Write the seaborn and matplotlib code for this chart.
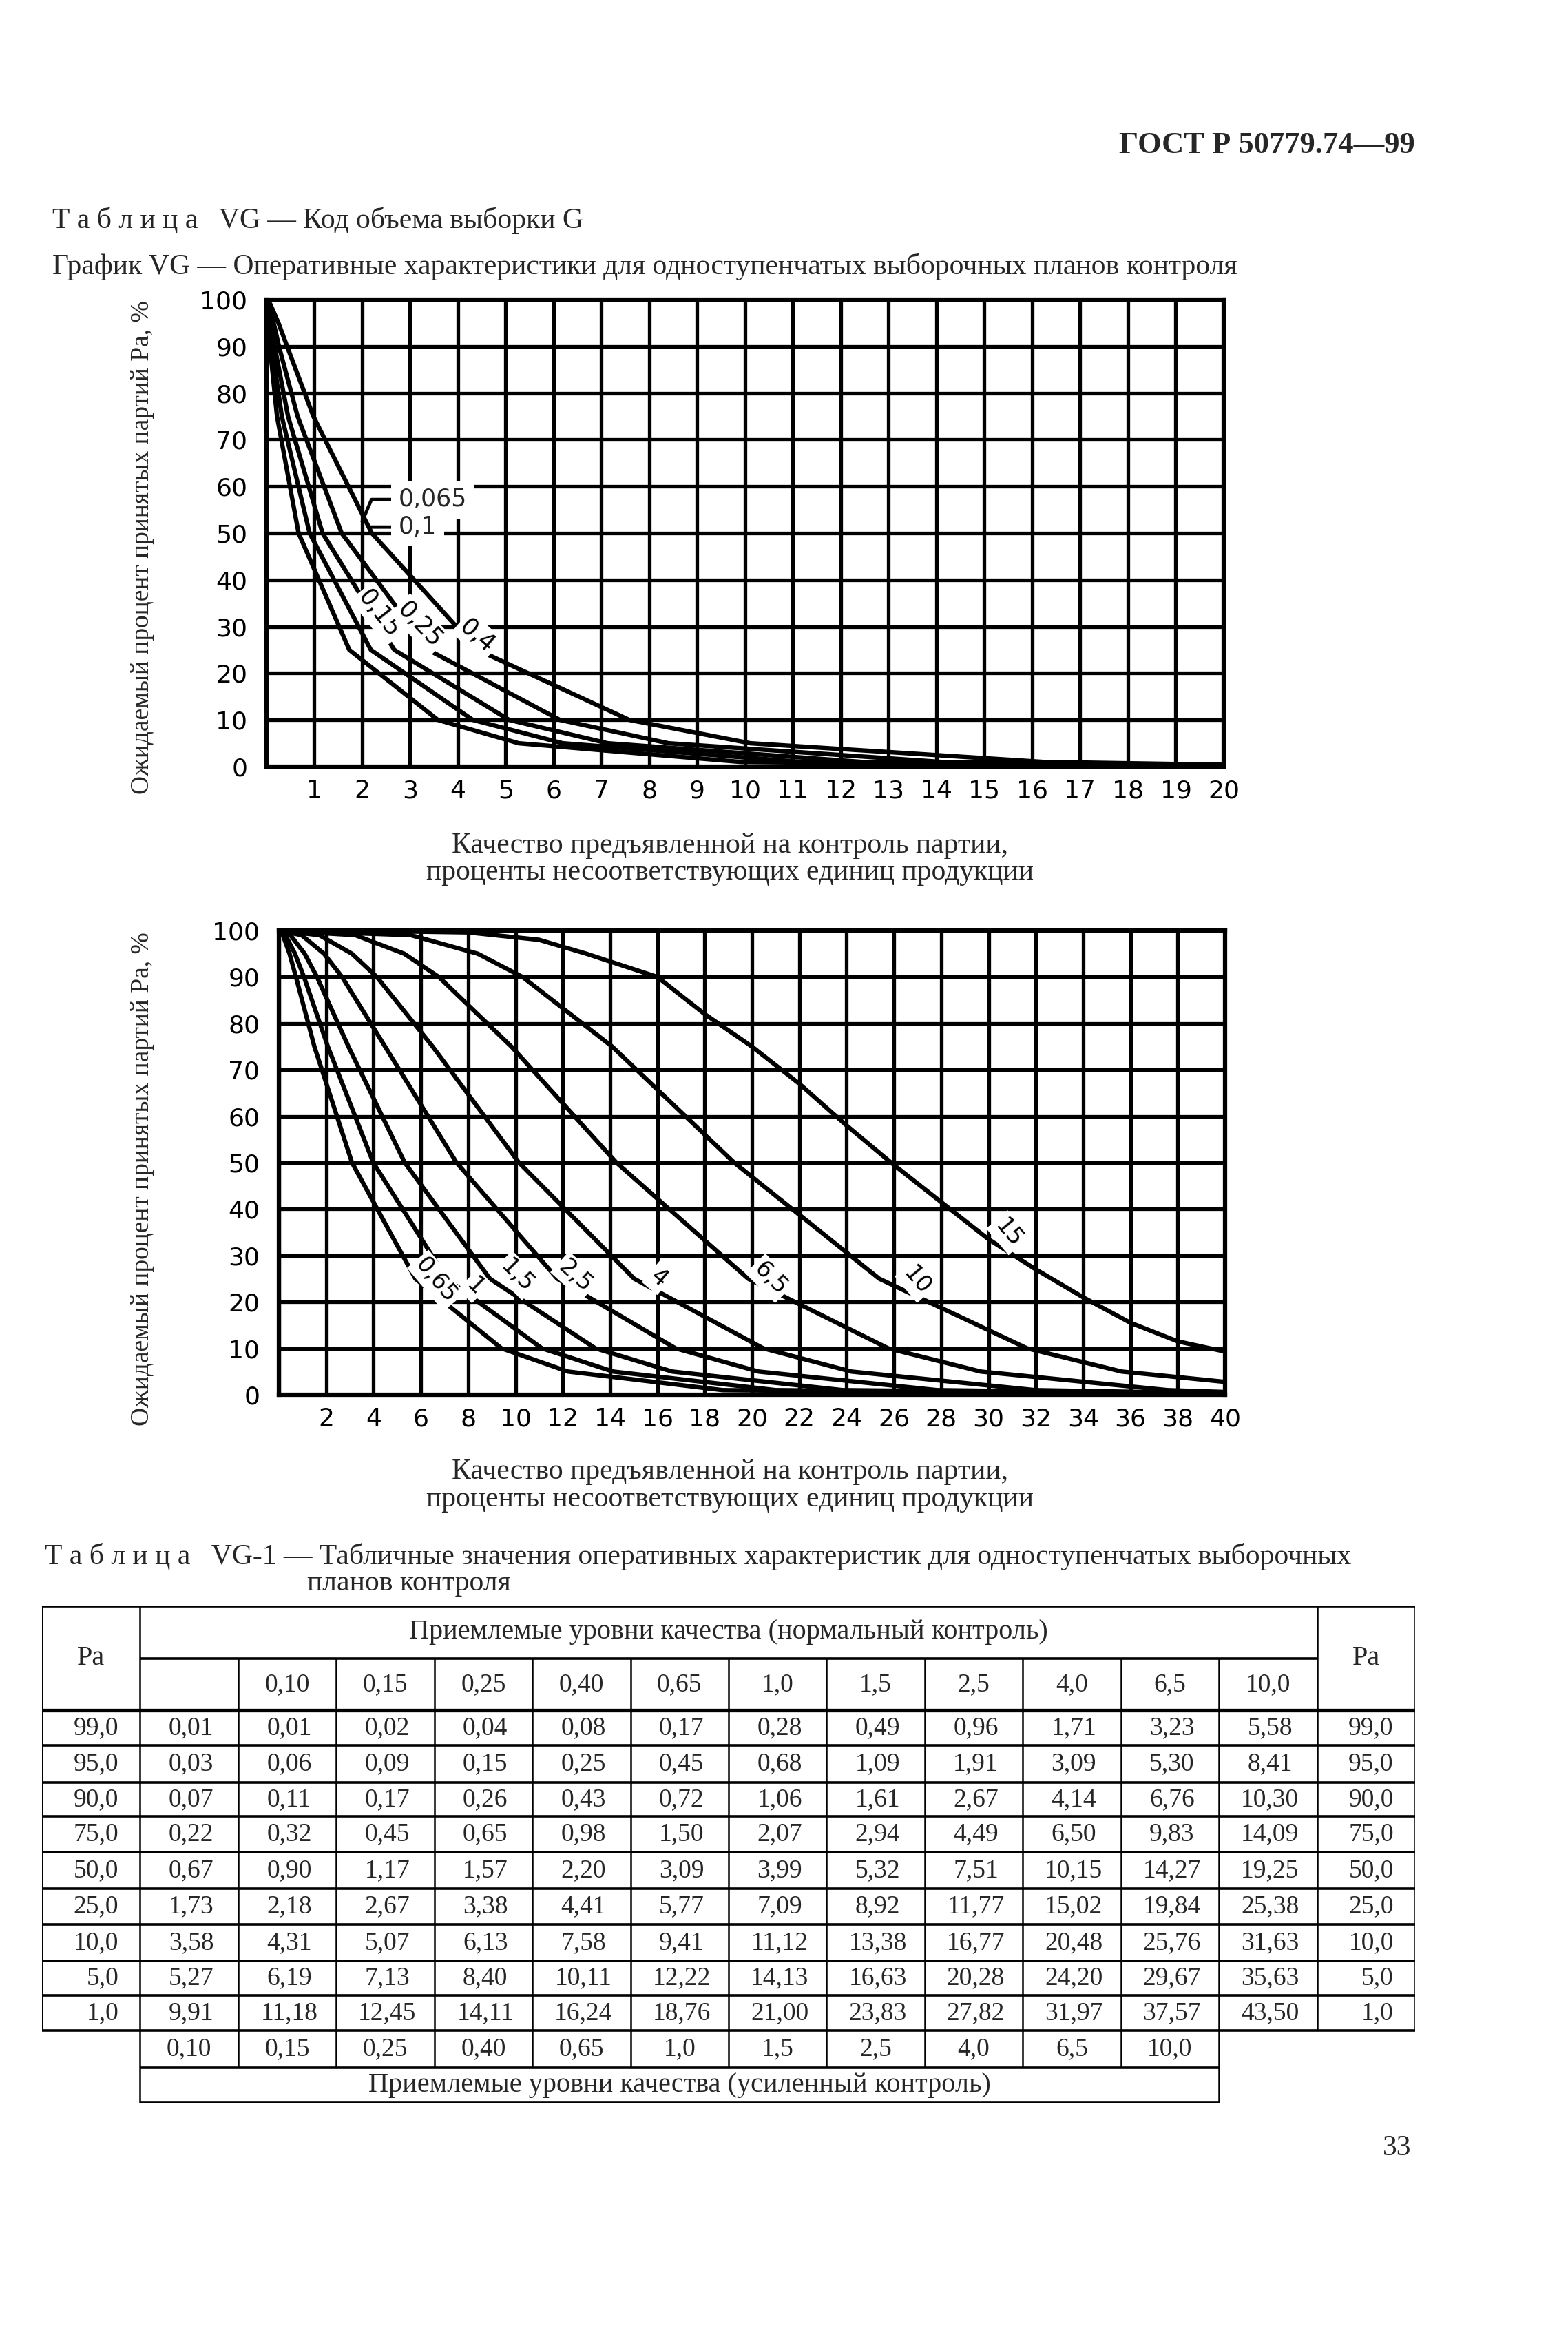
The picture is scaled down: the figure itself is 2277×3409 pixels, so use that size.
import matplotlib

matplotlib.use("Agg")
import matplotlib.pyplot as plt
import pandas as pd
import seaborn as sns


OUT_PATH = "out.png"

# Pa levels, % (rows of table VG-1)
PA_LEVELS = [99.0, 95.0, 90.0, 75.0, 50.0, 25.0, 10.0, 5.0, 1.0]

# AQL column headers
NORMAL_AQL = ["", "0,10", "0,15", "0,25", "0,40", "0,65", "1,0", "1,5", "2,5", "4,0", "6,5", "10,0"]
TIGHTENED_AQL = ["0,10", "0,15", "0,25", "0,40", "0,65", "1,0", "1,5", "2,5", "4,0", "6,5", "10,0"]

# lot quality p, % nonconforming, at each Pa level (one list per table column)
P_AQL_0065 = [0.01, 0.03, 0.07, 0.22, 0.67, 1.73, 3.58, 5.27, 9.91]
P_AQL_010 = [0.01, 0.06, 0.11, 0.32, 0.90, 2.18, 4.31, 6.19, 11.18]
P_AQL_015 = [0.02, 0.09, 0.17, 0.45, 1.17, 2.67, 5.07, 7.13, 12.45]
P_AQL_025 = [0.04, 0.15, 0.26, 0.65, 1.57, 3.38, 6.13, 8.40, 14.11]
P_AQL_040 = [0.08, 0.25, 0.43, 0.98, 2.20, 4.41, 7.58, 10.11, 16.24]
P_AQL_065 = [0.17, 0.45, 0.72, 1.50, 3.09, 5.77, 9.41, 12.22, 18.76]
P_AQL_10 = [0.28, 0.68, 1.06, 2.07, 3.99, 7.09, 11.12, 14.13, 21.00]
P_AQL_15 = [0.49, 1.09, 1.61, 2.94, 5.32, 8.92, 13.38, 16.63, 23.83]
P_AQL_25 = [0.96, 1.91, 2.67, 4.49, 7.51, 11.77, 16.77, 20.28, 27.82]
P_AQL_40 = [1.71, 3.09, 4.14, 6.50, 10.15, 15.02, 20.48, 24.20, 31.97]
P_AQL_65 = [3.23, 5.30, 6.76, 9.83, 14.27, 19.84, 25.76, 29.67, 37.57]
P_AQL_100 = [5.58, 8.41, 10.30, 14.09, 19.25, 25.38, 31.63, 35.63, 43.50]

# AQL 15 is drawn on the lower graph only
CURVE15_P = [0, 4, 8, 11, 13, 16, 18, 20, 22, 24, 26, 28, 30, 32, 34, 36, 38, 40]
CURVE15_PA = [100, 99.9, 99.6, 98, 95, 90, 82, 75, 67, 58, 49.5, 41.5, 33.5, 27, 21, 15.5, 11.5, 9.3]

# where the curves run out at the right edge of each graph
CHART1_END_P = 20
CHART1_END_PA = [0.1, 0.15, 0.2, 0.3, 0.4]
CHART2_END_P = 40
CHART2_END_PA = [0.05, 0.1, 0.15, 0.2, 0.3, 0.6]

CHART1_LABELS = ["0,065", "0,1", "0,15", "0,25", "0,4"]
CHART2_LABELS = ["0,65", "1", "1,5", "2,5", "4", "6,5", "10", "15"]

TABLE_COLUMNS = [P_AQL_0065, P_AQL_010, P_AQL_015, P_AQL_025, P_AQL_040, P_AQL_065,
                 P_AQL_10, P_AQL_15, P_AQL_25, P_AQL_40, P_AQL_65, P_AQL_100]

SERIF = ["Liberation Serif", "DejaVu Serif"]
PLOT_FONT = "DejaVu Sans"
INK = "black"


def fmt(value: float, digits: int = 2) -> str:
    return f"{value:.{digits}f}".replace(".", ",")


def curves_frame(columns, labels, end_p, end_pa) -> pd.DataFrame:
    rows = []
    for label, p_values, tail in zip(labels, columns, end_pa):
        xs = [0.0] + list(p_values) + [end_p]
        ys = [100.0] + PA_LEVELS + [tail]
        rows += [{"curve": label, "p": x, "pa": y} for x, y in zip(xs, ys)]
    return pd.DataFrame(rows)


def style_chart(ax, xmax: int, xstep: int) -> None:
    ax.set_xlim(0, xmax)
    ax.set_ylim(0, 100)
    ax.set_xticks(range(0, xmax + 1, xstep))
    ax.set_xticklabels([""] + [str(v) for v in range(xstep, xmax + 1, xstep)])
    ax.set_yticks(range(0, 101, 10))
    ax.grid(True, color=INK, linewidth=3.8)
    ax.set_axisbelow(True)
    for spine in ax.spines.values():
        spine.set_color(INK)
        spine.set_linewidth(4.5)
    ax.tick_params(axis="both", length=0, labelsize=26, colors=INK)
    ax.tick_params(axis="x", pad=13)
    ax.tick_params(axis="y", pad=20)
    for lab in ax.get_xticklabels() + ax.get_yticklabels():
        lab.set_fontfamily(PLOT_FONT)
    ax.set_xlabel("")
    ax.set_ylabel("")


def draw_curves(ax, df: pd.DataFrame) -> None:
    sns.lineplot(data=df, x="p", y="pa", units="curve", estimator=None, sort=False,
                 color=INK, linewidth=4.6, ax=ax, zorder=3)


def curve_label(ax, text, x, y, angle, size=24):
    ax.text(x, y, text, rotation=angle, rotation_mode="anchor", ha="center", va="center",
            fontsize=size, fontfamily=PLOT_FONT, color=INK, zorder=5,
            bbox=dict(boxstyle="square,pad=0.12", facecolor="white", edgecolor="none"))


def main() -> None:
    sns.set_theme(style="white")
    plt.rcParams["font.family"] = SERIF

    fig = plt.figure(figsize=(22.77, 34.09), dpi=100)
    fig.patch.set_facecolor("white")

    # page header
    fig.text(0.9025, 0.9381, "ГОСТ Р 50779.74—99", ha="right", va="center", fontsize=32, fontweight="bold")
    fig.text(0.0334, 0.9061, "Т а б л и ц а   VG — Код объема выборки G", ha="left", va="center", fontsize=30)
    fig.text(0.0334, 0.8865,
             "График VG — Оперативные характеристики для одноступенчатых выборочных планов контроля",
             ha="left", va="center", fontsize=30)

    ylabel = "Ожидаемый процент принятых партий Ра, %"
    xlabel1 = "Качество предъявленной на контроль партии,"
    xlabel2 = "проценты несоответствующих единиц продукции"

    # upper graph: AQL 0,065 ... 0,4
    ax1 = fig.add_axes([0.16996, 0.67351, 0.61045, 0.19889])
    df1 = curves_frame(TABLE_COLUMNS[:5], CHART1_LABELS, CHART1_END_P, CHART1_END_PA)
    draw_curves(ax1, df1)
    style_chart(ax1, 20, 1)

    leader = dict(arrowstyle="-", color=INK, lw=3.5, shrinkA=0, shrinkB=0)
    box = dict(boxstyle="square,pad=0.3", facecolor="white", edgecolor="none")
    ax1.annotate(CHART1_LABELS[0], xy=(2.0, 52.5), xytext=(2.76, 57.2), ha="left", va="center",
                 fontsize=25, fontfamily=PLOT_FONT, bbox=box, zorder=5,
                 arrowprops=dict(leader, connectionstyle="angle,angleA=180,angleB=67,rad=0"))
    ax1.annotate(CHART1_LABELS[1], xy=(2.14, 51.3), xytext=(2.76, 51.3), ha="left", va="center",
                 fontsize=25, fontfamily=PLOT_FONT, bbox=box, zorder=5, arrowprops=leader)
    for text, (x, y, ang) in zip(CHART1_LABELS[2:], [(2.36, 32.7, -52), (3.21, 30.4, -46), (4.40, 28.0, -41)]):
        curve_label(ax1, text, x, y, ang, size=25)

    fig.text(0.0909, 0.7668, ylabel, rotation=90, ha="center", va="center", fontsize=27)
    fig.text(0.4655, 0.6398, xlabel1, ha="center", va="center", fontsize=30)
    fig.text(0.4655, 0.6283, xlabel2, ha="center", va="center", fontsize=30)

    # lower graph: AQL 0,65 ... 15
    ax2 = fig.add_axes([0.17787, 0.40598, 0.60343, 0.19771])
    df2 = curves_frame(TABLE_COLUMNS[5:], CHART2_LABELS[:7], CHART2_END_P, CHART2_END_PA + [0.0])
    df2 = df2[~((df2["curve"] == "10") & (df2["p"] == CHART2_END_P))]
    df15 = pd.DataFrame({"curve": CHART2_LABELS[7], "p": CURVE15_P, "pa": CURVE15_PA})
    draw_curves(ax2, pd.concat([df2, df15], ignore_index=True))
    style_chart(ax2, 40, 2)

    label_pos2 = [(6.64, 24.6, -50), (8.28, 23.4, -45), (10.07, 25.7, -45), (12.53, 25.6, -42),
                  (16.05, 25.2, -40), (20.77, 25.1, -45), (26.96, 24.6, -50), (30.83, 34.9, -50)]
    for text, (x, y, ang) in zip(CHART2_LABELS, label_pos2):
        curve_label(ax2, text, x, y, ang, size=24)

    fig.text(0.0909, 0.4978, ylabel, rotation=90, ha="center", va="center", fontsize=27)
    fig.text(0.4655, 0.3731, xlabel1, ha="center", va="center", fontsize=30)
    fig.text(0.4655, 0.3616, xlabel2, ha="center", va="center", fontsize=30)

    # table VG-1
    fig.text(0.0285, 0.3371,
             "Т а б л и ц а   VG-1 — Табличные значения оперативных характеристик для одноступенчатых выборочных",
             ha="left", va="center", fontsize=30)
    fig.text(0.1959, 0.3256, "планов контроля", ha="left", va="center", fontsize=30)

    tax = fig.add_axes([0.02679, 0.10443, 0.87571, 0.2115])
    tax.set_xlim(0, 14)
    tax.set_ylim(721, 0)
    tax.axis("off")

    row_edges = [0, 76, 151, 202, 256, 305, 357, 410, 462, 515, 565, 616, 670, 721]
    lw_h, lw_v = 2.6, 1.8
    tax.hlines(row_edges[0], 0, 14, color=INK, lw=lw_h)
    tax.hlines(row_edges[1], 1, 13, color=INK, lw=lw_h)
    tax.hlines(row_edges[2], 0, 14, color=INK, lw=3.8)
    tax.hlines(row_edges[3:12], 0, 14, color=INK, lw=lw_h)
    tax.hlines(row_edges[12:], 1, 12, color=INK, lw=lw_h)
    tax.vlines([0, 13, 14], 0, row_edges[11], color=INK, lw=lw_v)
    tax.vlines(1, 0, row_edges[13], color=INK, lw=lw_v)
    tax.vlines(12, row_edges[1], row_edges[13], color=INK, lw=lw_v)
    tax.vlines(range(2, 12), row_edges[1], row_edges[12], color=INK, lw=lw_v)

    cell_font = 27
    tax.text(0.5, 75.5, "Ра", ha="center", va="center", fontsize=29)
    tax.text(13.5, 75.5, "Ра", ha="center", va="center", fontsize=29)
    tax.text(7, 38, "Приемлемые уровни качества (нормальный контроль)", ha="center", va="center", fontsize=29)
    for i, label in enumerate(NORMAL_AQL):
        tax.text(i + 1.5, 113.5, label, ha="center", va="center", fontsize=cell_font)

    for r, pa in enumerate(PA_LEVELS):
        yc = (row_edges[r + 2] + row_edges[r + 3]) / 2
        tax.text(0.78, yc, fmt(pa, 1), ha="right", va="center", fontsize=cell_font)
        tax.text(13.78, yc, fmt(pa, 1), ha="right", va="center", fontsize=cell_font)
        for c, column in enumerate(TABLE_COLUMNS):
            tax.text(c + 1.52, yc, fmt(column[r]), ha="center", va="center", fontsize=cell_font)

    for i, label in enumerate(TIGHTENED_AQL):
        tax.text(i + 1.5, (row_edges[11] + row_edges[12]) / 2, label, ha="center", va="center", fontsize=cell_font)
    tax.text(6.5, (row_edges[12] + row_edges[13]) / 2, "Приемлемые уровни качества (усиленный контроль)",
             ha="center", va="center", fontsize=29)

    fig.text(0.8911, 0.0851, "33", ha="center", va="center", fontsize=30)

    fig.savefig(OUT_PATH, dpi=100, facecolor="white")
    plt.close(fig)


if __name__ == "__main__":
    main()
